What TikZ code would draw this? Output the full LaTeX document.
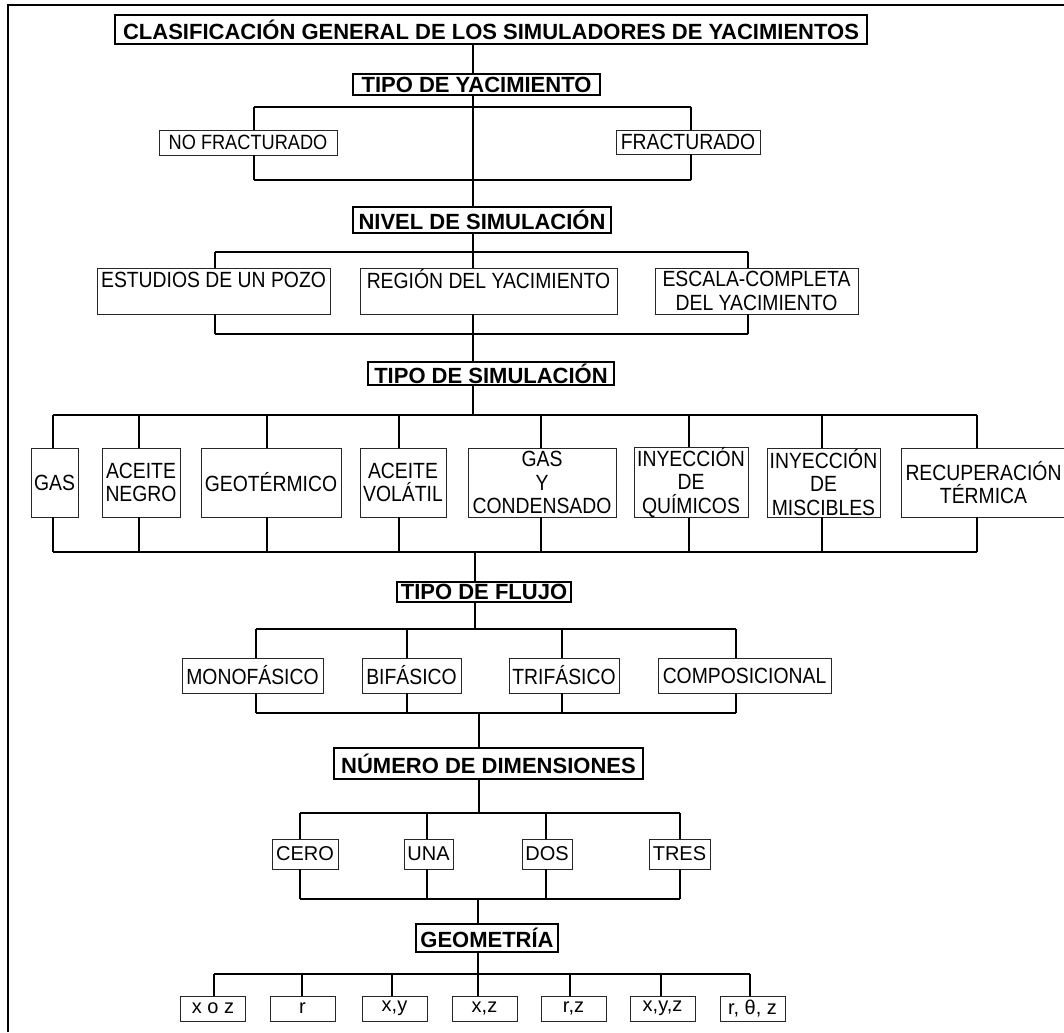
\documentclass[tikz,border=0pt]{standalone}
\usepackage{fontspec}
\setmainfont{Liberation Sans}
\newfontfamily\narrowsf{Liberation Sans}[FakeStretch=0.88]

\begin{document}
\begin{tikzpicture}[x=0.75pt,y=-0.75pt,
  head/.style={draw,line width=1.5pt,fill=white,inner sep=0pt,font=\bfseries\fontsize{16.5}{18}\selectfont},
  item/.style={draw=black!85,line width=0.6pt,fill=white,inner sep=0pt,align=center,font=\fontsize{15}{17}\selectfont},
  tall/.style={font=\narrowsf\fontsize{16.5}{17.5}\selectfont},
  sz/.style 2 args={minimum width=#1*0.75pt,minimum height=#2*0.75pt},
  bus/.style={line width=1.6pt},
  stem/.style={line width=1pt},
  frame/.style={line width=1.6pt}]
 \useasboundingbox (0,0) rectangle (1064,1032);
 % frame
 \draw[frame] (8,1032) -- (8,5) -- (1066,5);

 % headers
 \node[head,sz={752}{29}] (titulo) at (491,29.5) {CLASIFICACIÓN GENERAL DE LOS SIMULADORES DE YACIMIENTOS};
 \node[head,sz={247}{21}] (tipoyac) at (476.5,84.5) {TIPO DE YACIMIENTO};
 \node[head,sz={258}{26}] (nivel) at (482,220) {NIVEL DE SIMULACIÓN};
 \node[head,sz={246}{23}] (tiposim) at (491,373.5) {TIPO DE SIMULACIÓN};
 \node[head,sz={174}{20}] (flujo) at (484,592) {TIPO DE FLUJO};
 \node[head,sz={309}{31}] (numdim) at (488.5,763.5) {NÚMERO DE DIMENSIONES};
 \node[head,sz={142}{28}] (geom) at (487,938) {GEOMETRÍA};

 % trunk
 \coordinate (t1) at (473,0);
 \coordinate (t4) at (475,0);
 \coordinate (t5) at (479,0);
 \coordinate (t6) at (478,0);

 % tipo de yacimiento
 \node[item,sz={178}{25},font=\narrowsf\fontsize{15.5}{17}\selectfont] (nofrac) at (248,142.5) {NO FRACTURADO};
 \node[item,tall,sz={144}{24}] (frac) at (688,142) {FRACTURADO};
 \coordinate (ya1) at (254,107);
 \coordinate (ya2) at (691,107);
 \coordinate (yb1) at (254,180);
 \coordinate (yb2) at (691,180);
 \draw[stem] (titulo.south -| t1) -- (tipoyac.north -| t1);
 \draw[stem] (tipoyac.south -| t1) -- (nivel.north -| t1);
 \draw[bus] (ya1) -- (ya2);
 \draw[bus] (yb1) -- (yb2);
 \draw[stem] (ya1) -- (ya1 |- nofrac.north);
 \draw[stem] (ya2) -- (ya2 |- frac.north);
 \draw[stem] (nofrac.south -| yb1) -- (yb1);
 \draw[stem] (frac.south -| yb2) -- (yb2);

 % nivel de simulacion
 \foreach \n/\cx/\w/\x/\txt [count=\k] in {
   pozo/213.5/233/215/{ESTUDIOS DE UN POZO\\~},
   region/488.5/257/473/{REGIÓN DEL YACIMIENTO\\~},
   escala/756.5/203/748/{ESCALA-COMPLETA\\DEL YACIMIENTO}} {
  \node[item,tall,sz={\w}{46}] (\n) at (\cx,291) {\txt};
  \coordinate (na\k) at (\x,252);
  \coordinate (nb\k) at (\x,334);
  \draw[stem] (na\k) -- (na\k |- \n.north);
  \draw[stem] (\n.south -| nb\k) -- (nb\k);
 }
 \draw[bus] (na1) -- (na3);
 \draw[bus] (nb1) -- (nb3);
 \draw[stem] (nivel.south -| na2) -- (na2);
 \draw[stem] (nb2) -- (nb2 |- tiposim.north);

 % tipo de simulacion
 \foreach \n/\cx/\w/\x/\txt [count=\k] in {
   gas/54.5/47/53/{GAS},
   negro/141/78/139/{ACEITE\\NEGRO},
   geot/271/140/267/{GEOTÉRMICO},
   volatil/403/86/399/{ACEITE\\VOLÁTIL},
   conden/542/148/541/{GAS\\Y\\CONDENSADO},
   quimicos/691/114/689/{INYECCIÓN\\DE\\QUÍMICOS},
   miscib/823.5/113/822/{INYECCIÓN\\DE\\MISCIBLES},
   termica/983.5/165/977/{RECUPERACIÓN\\TÉRMICA}} {
  \node[item,tall,sz={\w}{69}] (\n) at (\cx,482.5) {\txt};
  \coordinate (s\k) at (\x,415);
  \coordinate (j\k) at (\x,552);
  \draw[stem] (s\k) -- (s\k |- \n.north);
  \draw[stem] (\n.south -| j\k) -- (j\k);
 }
 \draw[bus] (s1) -- (s8);
 \draw[bus] (j1) -- (j8);
 \draw[stem] (tiposim.south -| t1) -- (t1 |- s1);
 \draw[stem] (t4 |- j1) -- (flujo.north -| t4);

 % tipo de flujo
 \foreach \n/\cx/\w/\x/\txt [count=\k] in {
   mono/252.5/141/256/{MONOFÁSICO},
   bif/411.5/99/407/{BIFÁSICO},
   trif/564/110/562/{TRIFÁSICO},
   compos/744.5/173/736/{COMPOSICIONAL}} {
  \node[item,tall,sz={\w}{35}] (\n) at (\cx,675.5) {\txt};
  \coordinate (f\k) at (\x,629);
  \coordinate (g\k) at (\x,713);
  \draw[stem] (f\k) -- (f\k |- \n.north);
  \draw[stem] (\n.south -| g\k) -- (g\k);
 }
 \draw[bus] (f1) -- (f4);
 \draw[bus] (g1) -- (g4);
 \draw[stem] (flujo.south -| t4) -- (t4 |- f1);
 \draw[stem] (t5 |- g1) -- (numdim.north -| t5);

 % numero de dimensiones
 \foreach \n/\cx/\w/\x/\txt [count=\k] in {
   cero/305/66/300/{CERO},
   una/428.5/49/427/{UNA},
   dos/547/50/546/{DOS},
   tres/679.5/61/680/{TRES}} {
  \node[item,sz={\w}{30}] (\n) at (\cx,854) {\txt};
  \coordinate (d\k) at (\x,813);
  \coordinate (e\k) at (\x,899);
  \draw[stem] (d\k) -- (d\k |- \n.north);
  \draw[stem] (\n.south -| e\k) -- (e\k);
 }
 \draw[bus] (d1) -- (d4);
 \draw[bus] (e1) -- (e4);
 \draw[stem] (numdim.south -| t5) -- (t5 |- d1);
 \draw[stem] (t6 |- e1) -- (geom.north -| t6);

 % geometria
 \foreach \n/\cx/\x/\txt [count=\k] in {
   xoz/213/214/{x o z},
   r/302.5/302/{r},
   xy/394.5/392/{x,y},
   xz/484.5/478/{x,z},
   rz/573.5/570/{r,z},
   xyz/662.5/661/{x,y,z},
   rtz/752.5/750/{r, θ, z}} {
  \node[item,sz={65}{25}] (\n) at (\cx,1008.5) {\txt};
  \coordinate (q\k) at (\x,974);
  \draw[stem] (q\k) -- (q\k |- \n.north);
 }
 \draw[bus] (q1) -- (q7);
 \draw[stem] (geom.south -| t6) -- (t6 |- q1);
\end{tikzpicture}
\end{document}
